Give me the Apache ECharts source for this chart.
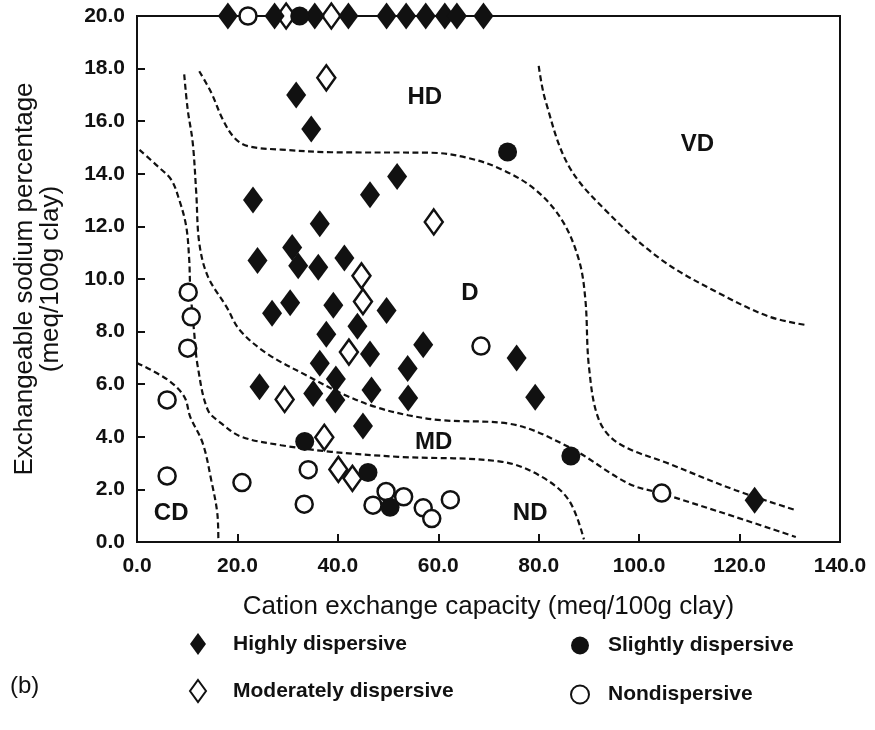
<!DOCTYPE html>
<html>
<head>
<meta charset="utf-8">
<script src="https://cdn.jsdelivr.net/npm/echarts@6/dist/echarts.min.js"></script>
<style>
  html, body { margin: 0; padding: 0; background: #fff; }
  #main { width: 875px; height: 730px; }
</style>
</head>
<body>
<div id="main"></div>
<script>
// point data: [CEC, ESP]
var highly = [
  [18.1, 20], [27.4, 20], [35.4, 20], [42.1, 20], [49.7, 20], [53.6, 20], [57.5, 20], [61.3, 20], [63.7, 20], [69.0, 20],
  [31.7, 17.0], [34.7, 15.7], [51.8, 13.9], [46.4, 13.2], [23.1, 13.0], [36.4, 12.1], [30.9, 11.2], [24.0, 10.7],
  [32.1, 10.5], [36.1, 10.45], [41.3, 10.8], [39.1, 9.0], [30.5, 9.1], [26.9, 8.7], [49.7, 8.8], [43.9, 8.2],
  [37.7, 7.9], [46.4, 7.15], [57.0, 7.5], [75.6, 7.0], [36.4, 6.8], [53.9, 6.6], [39.6, 6.2], [24.4, 5.9],
  [35.1, 5.65], [39.5, 5.4], [46.7, 5.78], [54.0, 5.48], [79.3, 5.5], [45.0, 4.41], [123.0, 1.59]
];
var moderately = [
  [29.7, 20], [38.7, 20], [37.7, 17.65], [59.1, 12.17], [44.7, 10.12], [45.0, 9.14], [42.2, 7.22],
  [29.4, 5.42], [37.3, 3.98], [40.1, 2.76], [42.9, 2.42]
];
var slightly = [
  [32.4, 20], [73.8, 14.83], [33.4, 3.82], [46.0, 2.64], [50.4, 1.32], [86.4, 3.27]
];
var nondispersive = [
  [22.1, 20], [10.2, 9.5], [10.8, 8.56], [10.1, 7.37], [6.0, 5.4], [6.0, 2.51], [20.9, 2.26], [34.1, 2.75],
  [33.3, 1.44], [49.6, 1.92], [53.1, 1.72], [47.0, 1.4], [57.0, 1.3], [58.7, 0.89], [62.4, 1.61],
  [68.5, 7.45], [104.5, 1.86]
];

// dashed boundary curves
var cdLine = [[0, 6.81], [6.1, 6.17], [9.4, 5.53], [10.6, 4.76], [13.1, 3.75], [14.8, 2.34], [16.0, 1.08], [16.2, 0.1]];
var ndLine = [[0.5, 14.91], [4.1, 14.29], [6.8, 13.78], [8.4, 13.02], [9.8, 12.0], [10.4, 10.73], [10.6, 9.71],
  [11.4, 7.94], [12.1, 6.67], [14.1, 5.02], [16.8, 4.51], [20.8, 4.0], [28.7, 3.68], [38.7, 3.43], [52.0, 3.24],
  [72.7, 3.05], [80.6, 2.48], [86.0, 1.59], [89.0, 0.1]];
var mdLine = [[9.4, 17.78], [10.1, 16.44], [11.1, 15.18], [11.8, 13.27], [12.4, 11.37], [14.1, 10.1], [17.8, 8.95],
  [20.5, 8.05], [26.0, 7.15], [34.1, 6.3], [40.7, 5.65], [47.4, 5.14], [54.0, 4.82], [60.7, 4.63], [74.0, 4.5],
  [86.0, 3.61], [97.9, 2.22], [104.6, 1.84], [119.2, 0.95], [131.2, 0.19]];
var hdLine = [[12.4, 17.9], [14.8, 17.08], [17.1, 16.06], [19.4, 15.37], [22.1, 15.05], [28.7, 14.92], [38.7, 14.82],
  [58.7, 14.8], [66.0, 14.6], [72.7, 14.16], [79.3, 13.4], [84.6, 12.25], [88.0, 10.73], [89.3, 9.2], [90.0, 6.67],
  [92.0, 4.64], [95.9, 3.75], [105.9, 2.98], [119.2, 1.97], [131.2, 1.21]];
var vdLine = [[80.0, 18.1], [81.3, 16.81], [86.0, 14.29], [93.9, 12.5], [104.6, 10.71], [115.9, 9.46], [125.9, 8.57], [133.2, 8.25]];

// zone labels
var zoneLabels = [['HD', 57.3, 16.9], ['VD', 111.6, 15.1], ['D', 66.3, 9.47], ['MD', 59.1, 3.8], ['ND', 78.3, 1.1], ['CD', 6.8, 1.08]];

var ink = '#111';
var font = 'Liberation Sans, Arial, sans-serif';

function boundary(data) {
  return {
    type: 'line', data: data, smooth: 0.35, showSymbol: false, silent: true, z: 1,
    lineStyle: { color: ink, width: 2.2, type: [6, 3.5] }
  };
}

var myChart = echarts.init(document.getElementById('main'));
myChart.setOption({
  animation: false,
  backgroundColor: '#fff',
  grid: { left: 137, right: 35, top: 16, bottom: 188, show: true, borderColor: ink, borderWidth: 2 },
  xAxis: {
    type: 'value', min: 0, max: 140, interval: 20,
    name: 'Cation exchange capacity (meq/100g clay)',
    nameLocation: 'middle', nameGap: 52,
    nameTextStyle: { fontFamily: font, fontSize: 26, color: ink },
    axisLine: { show: true, lineStyle: { color: ink, width: 2 } },
    axisTick: { show: true, inside: true, length: 8, lineStyle: { color: ink, width: 2 } },
    axisLabel: { margin: 14, fontFamily: font, fontSize: 21, fontWeight: 'bold', color: ink,
      formatter: function (v) { return v.toFixed(1); } },
    splitLine: { show: false }
  },
  yAxis: {
    type: 'value', min: 0, max: 20, interval: 2,
    name: 'Exchangeable sodium percentage\n(meq/100g clay)',
    nameLocation: 'middle', nameGap: 73, nameRotate: 90,
    nameTextStyle: { fontFamily: font, fontSize: 26, color: ink, lineHeight: 26 },
    axisLine: { show: true, lineStyle: { color: ink, width: 2 } },
    axisTick: { show: true, inside: true, length: 8, lineStyle: { color: ink, width: 2 } },
    axisLabel: { margin: 12, fontFamily: font, fontSize: 21, fontWeight: 'bold', color: ink,
      formatter: function (v) { return v.toFixed(1); } },
    splitLine: { show: false }
  },
  legend: [{
    data: ['Highly dispersive', 'Moderately dispersive'],
    orient: 'vertical', left: 184, top: 628, itemGap: 24, itemWidth: 16, itemHeight: 22,
    textStyle: { fontFamily: font, fontSize: 21, fontWeight: 'bold', color: ink, padding: [0, 0, 0, 22] }
  }, {
    data: ['Slightly dispersive', 'Nondispersive'],
    orient: 'vertical', left: 565, top: 630, itemGap: 28, itemWidth: 18, itemHeight: 18,
    textStyle: { fontFamily: font, fontSize: 21, fontWeight: 'bold', color: ink, padding: [0, 0, 0, 14] }
  }],
  graphic: [{
    type: 'text', left: 10, top: 674,
    style: { text: '(b)', font: '24px ' + font, fill: ink }
  }],
  series: [
    boundary(cdLine), boundary(ndLine), boundary(mdLine), boundary(hdLine), boundary(vdLine),
    {
      type: 'scatter', data: zoneLabels.map(function (d) { return [d[1], d[2], d[0]]; }),
      symbolSize: 0, silent: true, z: 2, itemStyle: { opacity: 1 },
      label: { show: true, position: 'inside', formatter: function (p) { return p.data[2]; },
        fontFamily: font, fontSize: 24, fontWeight: 'bold', color: ink, opacity: 1 }
    },
    {
      name: 'Highly dispersive', type: 'scatter', data: highly, clip: false, z: 5,
      symbol: 'diamond', symbolSize: [20, 27],
      itemStyle: { color: ink, opacity: 1 }
    },
    {
      name: 'Moderately dispersive', type: 'scatter', data: moderately, clip: false, z: 4,
      symbol: 'diamond', symbolSize: [18, 25],
      itemStyle: { color: '#fff', borderColor: ink, borderWidth: 2.5, opacity: 1 }
    },
    {
      name: 'Slightly dispersive', type: 'scatter', data: slightly, clip: false, z: 5,
      symbol: 'circle', symbolSize: 19,
      itemStyle: { color: ink, opacity: 1 }
    },
    {
      name: 'Nondispersive', type: 'scatter', data: nondispersive, clip: false, z: 4,
      symbol: 'circle', symbolSize: 17,
      itemStyle: { color: '#fff', borderColor: ink, borderWidth: 2.5, opacity: 1 }
    }
  ]
});
</script>
</body>
</html>
